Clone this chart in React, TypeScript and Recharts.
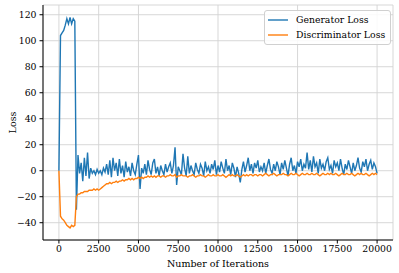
import {
  CartesianGrid,
  Label,
  Legend,
  Line,
  LineChart,
  XAxis,
  YAxis,
} from 'recharts'

// one sample every STEP iterations
const STEP = 100

const genLoss = [
  0, 104, 106, 108, 112, 117, 113, 118, 113, 117,
  115, -30, 12, -2, 6, -8, 10, -4, 14, -6,
  2, -2, 0, -3, 1, -2, 0, -3, 2, -1,
  5, -3, 8, -5, 10, 0, 6, -4, 9, -2,
  4, -5, 7, -1, 3, -4, 6, 0, -3, 5,
  12, -14, 2, -2, 5, -3, 8, 1, -3, 6,
  9, -2, 3, -4, 4, 0, -3, 5, -1, 3,
  6, -2, 4, 18, -11, 3, 0, -3, 13, 2,
  -4, 11, -2, 4, 0, -3, 6, 1, -2, 5,
  2, -4, 7, 0, 3, -2, 5, 1, 8, -3,
  4, -1, 7, 2, -2, 9, 0, 4, -3, 6,
  2, -5, 3, -2, -9, 1, 7, -1, 4, 10,
  0, 5, -2, 6, 2, 8, -1, 3, 0, 6,
  -2, 4, 9, 1, -2, 5, 0, 7, 3, -3,
  6, 1, 8, 2, -4, 5, 10, 0, 4, -2,
  7, 3, 9, 0, 5, 2, 14, 1, 8, -1,
  11, 3, 6, -2, 9, 2, 5, 0, 7, 10,
  1, 4, -2, 8, 3, 6, 0, 9, 2, -3,
  5, 1, 8, 3, -2, 6, 0, 4, 10, 2,
  -1, 7, 3, 9, 0, 5, 8, 1, 6, 3,
  -2,
]

const discLoss = [
  0, -35, -37, -38, -40, -42, -43, -44, -42, -43,
  -42, -20, -18, -18, -17, -17, -16, -16, -16, -15,
  -15, -15, -14, -15, -14, -15, -14, -13, -12, -11,
  -10, -10, -9, -10, -9, -9, -8, -9, -8, -8,
  -7, -8, -7, -7, -6, -7, -6, -7, -6, -6,
  -5, -6, -5, -6, -5, -5, -4, -5, -4, -5,
  -4, -5, -4, -4, -5, -4, -4, -5, -4, -4,
  -3, -4, -4, -3, -5, -4, -4, -3, -4, -4,
  -4, -5, -4, -4, -3, -4, -5, -4, -4, -3,
  -4, -4, -5, -4, -3, -4, -4, -3, -4, -4,
  -3, -4, -4, -3, -4, -5, -4, -3, -4, -3,
  -4, -4, -3, -4, -5, -4, -3, -4, -3, -4,
  -3, -3, -4, -3, -3, -4, -3, -3, -4, -3,
  -2, -3, -4, -3, -3, -2, -3, -4, -3, -3,
  -3, -2, -3, -3, -4, -3, -2, -3, -3, -2,
  -3, -4, -3, -2, -3, -3, -2, -3, -3, -2,
  -3, -3, -2, -3, -4, -3, -2, -3, -3, -2,
  -3, -2, -3, -3, -2, -3, -4, -3, -2, -3,
  -3, -2, -3, -3, -2, -3, -4, -3, -2, -3,
  -2, -3, -3, -2, -3, -4, -3, -2, -3, -2,
  -3,
]

const seriesNames = ['Generator Loss', 'Discriminator Loss']
const xTicks = [0, 2500, 5000, 7500, 10000, 12500, 15000, 17500, 20000]
const yTicks = [-40, -20, 0, 20, 40, 60, 80, 100, 120]

const data = genLoss.map((g, i) => ({ iter: i * STEP, gen: g, disc: discLoss[i] }))

const font = '"DejaVu Serif", serif'
const tickStyle = { fill: '#000', fontSize: 9.3, fontFamily: font }
const fmt = (v: number) => (v < 0 ? '\u2212' + Math.abs(v) : String(v))

function LegendBox({ payload }: any) {
  const items = [...(payload || [])].sort(
    (a: any, b: any) => seriesNames.indexOf(a.value) - seriesNames.indexOf(b.value),
  )
  return (
    <div
      style={{
        border: '1px solid #d0d0d0',
        borderRadius: 3,
        background: 'rgba(255,255,255,0.85)',
        padding: '2px 5px 2px 3px',
        fontFamily: font,
        fontSize: 9.3,
        lineHeight: '14.5px',
      }}
    >
      {items.map((p: any) => (
        <div key={p.value} style={{ display: 'flex', alignItems: 'center' }}>
          <svg width={20} height={4} style={{ marginRight: 8 }}>
            <line x1={0} y1={2} x2={20} y2={2} stroke={p.color} strokeWidth={1.4} />
          </svg>
          <span>{p.value}</span>
        </div>
      ))}
    </div>
  )
}

export default function App() {
  return (
    <div style={{ width: 399, height: 273, background: '#fff' }}>
      <style>{'body{margin:0}'}</style>
      <LineChart width={399} height={273} data={data} margin={{ top: 5, right: 6, left: 0, bottom: 0 }}>
        <CartesianGrid stroke="#d3d3d3" strokeWidth={0.9} />
        <XAxis
          dataKey="iter"
          type="number"
          domain={[-1000, 21000]}
          ticks={xTicks}
          allowDataOverflow
          height={33}
          tick={tickStyle}
          tickSize={3.5}
          tickMargin={2}
          tickLine={{ stroke: '#000' }}
          axisLine={{ stroke: '#000' }}
        >
          <Label
            value="Number of Iterations"
            position="insideBottom"
            offset={6}
            style={{ fill: '#000', fontSize: 9.5, fontFamily: font }}
          />
        </XAxis>
        <XAxis
          xAxisId="top"
          orientation="top"
          height={0}
          tick={false}
          tickLine={false}
          axisLine={{ stroke: '#000' }}
        />
        <YAxis
          type="number"
          domain={[-53.3, 127.5]}
          ticks={yTicks}
          allowDataOverflow
          width={43}
          tick={tickStyle}
          tickSize={3.5}
          tickMargin={3}
          tickFormatter={fmt}
          tickLine={{ stroke: '#000' }}
          axisLine={{ stroke: '#000' }}
        >
          <Label
            content={({ viewBox }: any) => {
              const cx = 12
              const cy = viewBox.y + viewBox.height / 2
              return (
                <text
                  x={cx}
                  y={cy}
                  transform={`rotate(-90 ${cx} ${cy})`}
                  textAnchor="middle"
                  dominantBaseline="central"
                  style={{ fill: '#000', fontSize: 9.5, fontFamily: font }}
                >
                  Loss
                </text>
              )
            }}
          />
        </YAxis>
        <YAxis
          yAxisId="right"
          orientation="right"
          width={0}
          tick={false}
          tickLine={false}
          axisLine={{ stroke: '#000' }}
        />
        <Legend
          layout="horizontal"
          verticalAlign="middle"
          align="center"
          content={LegendBox}
          wrapperStyle={{ position: 'absolute', top: 10, left: 264, width: 'auto' }}
        />
        <Line
          dataKey="gen"
          name={seriesNames[0]}
          stroke="#1f77b4"
          strokeWidth={1.4}
          dot={false}
          isAnimationActive={false}
        />
        <Line
          dataKey="disc"
          name={seriesNames[1]}
          stroke="#ff7f0e"
          strokeWidth={1.4}
          dot={false}
          isAnimationActive={false}
        />
      </LineChart>
    </div>
  )
}
